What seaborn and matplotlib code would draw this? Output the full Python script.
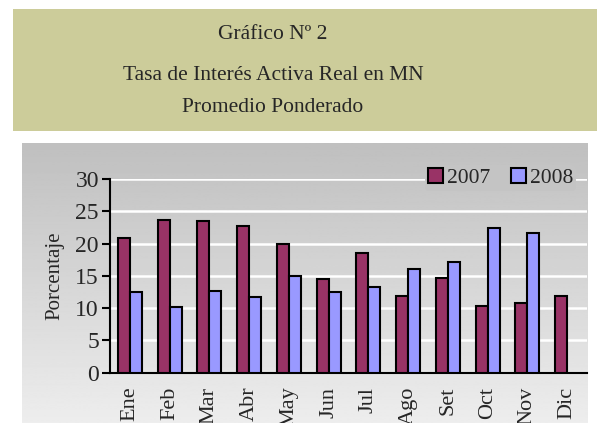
import numpy as np
import pandas as pd
import seaborn as sns
import matplotlib.pyplot as plt
from matplotlib.patches import Rectangle

months = ['Ene', 'Feb', 'Mar', 'Abr', 'May', 'Jun', 'Jul', 'Ago', 'Set', 'Oct', 'Nov', 'Dic']
tasa_2007 = [20.8, 23.6, 23.5, 22.7, 20.0, 14.5, 18.5, 11.9, 14.7, 10.4, 10.8, 11.9]
tasa_2008 = [12.5, 10.1, 12.7, 11.7, 15.0, 12.5, 13.3, 16.1, 17.2, 22.4, 21.7, np.nan]
years = ['2007', '2008']
colors = ['#993366', '#9999FF']

df = pd.DataFrame({'mes': months * 2,
                   'anio': ['2007'] * 12 + ['2008'] * 12,
                   'tasa': tasa_2007 + tasa_2008}).dropna()

sns.set_style('white')
plt.rcParams['font.family'] = ['Liberation Serif', 'DejaVu Serif']

fig = plt.figure(figsize=(5.97, 4.23), dpi=100)

# title box
fig.patches.append(Rectangle((13 / 597, 1 - 131 / 423), 1, 122 / 423,
                             transform=fig.transFigure, facecolor='#CCCC9A',
                             edgecolor='none', zorder=0))
for y, txt in [(39, 'Gráfico Nº 2'), (80, 'Tasa de Interés Activa Real en MN'),
               (112, 'Promedio Ponderado')]:
    fig.text(273 / 597, 1 - y / 423, txt, ha='center', va='baseline', fontsize=15.5)

# gradient chart background
bg = fig.add_axes([22 / 597, 0, 566 / 597, 280 / 423], zorder=0)
grad = np.linspace(0.75, 0.93, 256).reshape(-1, 1)
bg.imshow(grad, aspect='auto', cmap='gray', vmin=0, vmax=1, extent=[0, 1, 0, 1], origin='upper')
bg.set_axis_off()

ax = fig.add_axes([110 / 597, 50.3 / 423, 477 / 597, 193.7 / 423], zorder=1)
ax.set_facecolor('none')
sns.barplot(data=df, x='mes', y='tasa', hue='anio', order=months, hue_order=years,
            palette=colors, width=0.6, edgecolor='black', linewidth=1.5,
            saturation=1, ax=ax, zorder=3)

ax.set_ylim(0, 30)
ax.set_xlim(-0.5, 11.5)
ax.set_yticks(range(0, 31, 5))
ax.yaxis.grid(True, color='white', lw=1.8, zorder=0)
ax.set_axisbelow(True)
for s in ['top', 'right']:
    ax.spines[s].set_visible(False)
for s in ['left', 'bottom']:
    ax.spines[s].set_color('black')
    ax.spines[s].set_linewidth(1.5)

ax.set_xticks(np.arange(-0.5, 12, 1), minor=True)
ax.tick_params(axis='x', which='major', length=0, pad=10, labelsize=16, labelrotation=90)
ax.tick_params(axis='x', which='minor', length=6, width=1.5, direction='out', color='black')
ax.tick_params(axis='y', length=6, width=1.5, direction='out', color='black',
               labelsize=17, left=True, pad=2)
ax.set_xlabel('')
ax.set_ylabel('Porcentaje', fontsize=15, labelpad=8)

ax.legend(loc='upper right', bbox_to_anchor=(1.0, 1.13), ncol=2, frameon=True,
          facecolor='#C4C4C4', edgecolor='none', framealpha=1, fontsize=15.5,
          handlelength=0.7, handleheight=0.7, handletextpad=0.15, columnspacing=1.0,
          borderpad=0.15)

fig.savefig('out.png', dpi=100)
